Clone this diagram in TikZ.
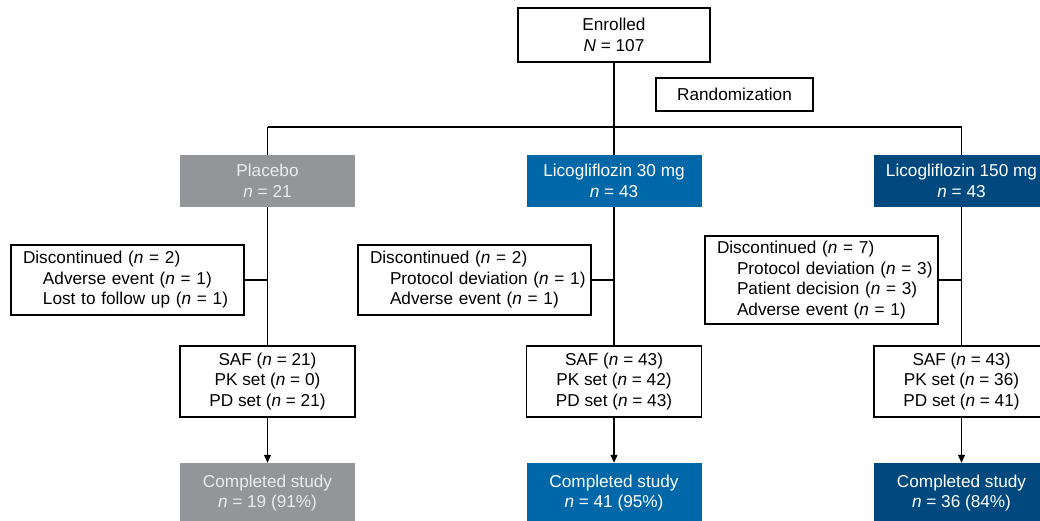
\documentclass[tikz,border=0pt]{standalone}
\usepackage{fontspec}
\setmainfont{Liberation Sans}
\usetikzlibrary{arrows.meta}
\definecolor{pgray}{HTML}{939598}
\definecolor{lblue}{HTML}{0067A8}
\definecolor{dblue}{HTML}{00497F}
\definecolor{ptext}{HTML}{EBEBEB}
\newcommand{\subl}[1]{\mbox{\hspace*{20pt}#1}}
\begin{document}
\begin{tikzpicture}[x=1pt,y=-1pt,
  every node/.style={font=\fontsize{17.2}{20.5}\selectfont, inner sep=0pt},
  wbox/.style={draw=black, line width=1.2pt, fill=white, align=center},
  gbox/.style={minimum width=175pt, minimum height=52pt, align=center, text=white},
  setbox/.style={wbox, minimum width=175pt, minimum height=71pt},
  donebox/.style={minimum width=175pt, minimum height=60pt, align=center, text=white},
  discbox/.style={draw=black, line width=1.2pt, fill=white, minimum width=233pt, text width=209pt, align=left, inner xsep=12pt},
  conn/.style={line width=1.2pt},
  arr/.style={conn, -{Triangle[length=8pt,width=7pt]}},
]
\useasboundingbox (0,0) rectangle (1040,521);
\clip (0,0) rectangle (1040,521);

% top
\node[wbox, minimum width=192pt, minimum height=54pt] (enr) at (614,35) {Enrolled\\\textit{N} = 107};
\node[wbox, minimum width=157pt, minimum height=33pt] (rand) at (734.5,94.5) {Randomization};
\coordinate (split) at (614,127);

% groups
\node[gbox, fill=pgray, text=ptext] (plac) at (267.5,181) {Placebo\\\textit{n} = 21};
\node[gbox, fill=lblue] (l30) at (614,181) {Licogliflozin 30 mg\\\textit{n} = 43};
\node[gbox, fill=dblue] (l150) at (961.5,181) {Licogliflozin 150 mg\\\textit{n} = 43};

% discontinued
\node[discbox, minimum height=70pt] (d1) at (127.5,280) {\mbox{Discontinued (\textit{n} = 2)}\\\subl{Adverse event (\textit{n} = 1)}\\\subl{Lost to follow up (\textit{n} = 1)}};
\node[discbox, minimum height=70pt] (d2) at (474.5,280) {\mbox{Discontinued (\textit{n} = 2)}\\\subl{Protocol deviation (\textit{n} = 1)}\\\subl{Adverse event (\textit{n} = 1)}};
\node[discbox, minimum height=88pt] (d3) at (821.5,280) {\mbox{Discontinued (\textit{n} = 7)}\\\subl{Protocol deviation (\textit{n} = 3)}\\\subl{Patient decision (\textit{n} = 3)}\\\subl{Adverse event (\textit{n} = 1)}};

% analysis sets
\node[setbox] (s1) at (267.5,381.5) {SAF (\textit{n} = 21)\\PK set (\textit{n} = 0)\\PD set (\textit{n} = 21)};
\node[setbox] (s2) at (614,381.5) {SAF (\textit{n} = 43)\\PK set (\textit{n} = 42)\\PD set (\textit{n} = 43)};
\node[setbox] (s3) at (961.5,381.5) {SAF (\textit{n} = 43)\\PK set (\textit{n} = 36)\\PD set (\textit{n} = 41)};

% completed
\node[donebox, fill=pgray, text=ptext] (c1) at (267.5,493) {Completed study\\\textit{n} = 19 (91\%)};
\node[donebox, fill=lblue] (c2) at (614,493) {Completed study\\\textit{n} = 41 (95\%)};
\node[donebox, fill=dblue] (c3) at (961.5,493) {Completed study\\\textit{n} = 36 (84\%)};

% connectors
\draw[conn] (enr.south) -- (split);
\draw[conn] (plac.north |- split) -- (l150.north |- split);
\draw[conn] (plac.north |- split) -- (plac.north);
\draw[conn] (split) -- (l30.north);
\draw[conn] (l150.north |- split) -- (l150.north);

\draw[conn] (plac.south) -- (s1.north);
\draw[conn] (l30.south) -- (s2.north);
\draw[conn] (l150.south) -- (s3.north);

\draw[conn] (d1.east) -- (d1.east -| plac.south);
\draw[conn] (d2.east) -- (d2.east -| l30.south);
\draw[conn] (d3.east) -- (d3.east -| l150.south);

\draw[arr] (s1.south) -- (c1.north);
\draw[arr] (s2.south) -- (c2.north);
\draw[arr] (s3.south) -- (c3.north);
\end{tikzpicture}
\end{document}
